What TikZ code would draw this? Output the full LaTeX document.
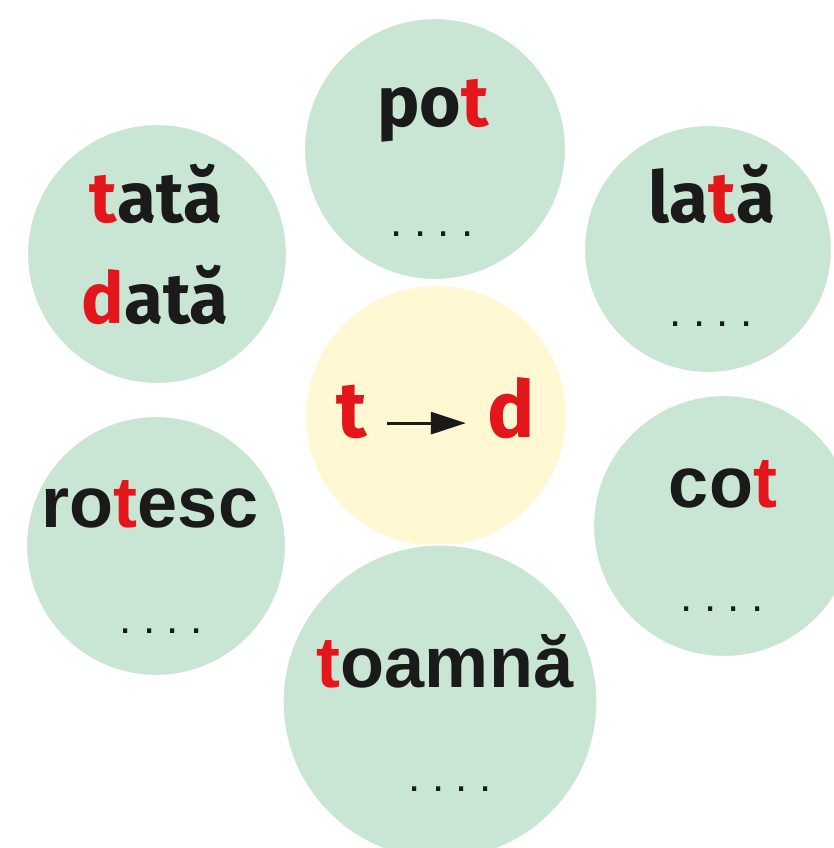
\documentclass[tikz,border=0pt]{standalone}
\usepackage{fontspec}
\setmainfont{Liberation Sans}
\newfontfamily\softsans{Fira Sans}
\usepackage{xcolor}
\usetikzlibrary{arrows.meta}
\definecolor{mintfill}{HTML}{C9E6D5}
\definecolor{creamfill}{HTML}{FFF8D2}
\definecolor{letterred}{HTML}{E3161B}
\definecolor{inkdark}{HTML}{1A1A1A}
\newcommand{\rl}[1]{\textcolor{letterred}{#1}}
\newcommand{\gapdots}{.\kern6.5pt.\kern6.5pt.\kern6.5pt.}
\tikzset{
  bubble/.style={circle, fill=#1, draw=white, line width=1.2pt, inner sep=0pt},
  bubble/.default=mintfill,
  word/.style={font=\fontsize{41}{41}\selectfont\bfseries, text=inkdark, anchor=base, inner sep=0pt},
  softword/.style={word, font=\fontsize{40.5}{40.5}\selectfont\softsans\bfseries},
  blanks/.style={font=\fontsize{25}{25}\selectfont, text=inkdark, anchor=base, inner sep=0pt},
  swap/.style={-{Triangle[length=0.7cm, width=0.44cm]}, line width=1.6pt, color=inkdark,
               shorten <=11pt, shorten >=12pt},
}

\begin{document}
\begin{tikzpicture}[
  sound/.style={softword, text=letterred, font=\fontsize{45}{45}\selectfont\softsans\bfseries,
                text height=15.8pt, text depth=0pt},
  x=0.02cm, y=-0.02cm]
  \useasboundingbox (0,0) rectangle (834,848);
  \node[bubble, minimum size=5.24cm] (cpot)  at (435,149) {};
  \node[bubble, minimum size=5.20cm] (ctata) at (157,254) {};
  \node[bubble, minimum size=4.96cm] (clata) at (708,249) {};
  \node[bubble=creamfill, minimum size=5.24cm] (cmid) at (436,416) {};
  \node[bubble, minimum size=5.20cm] (crot)  at (156,546) {};
  \node[bubble, minimum size=5.24cm] (ccot)  at (724,526) {};
  \node[bubble, minimum size=6.30cm] (ctoam) at (440,702) {};
  \node[softword] (pot)  at (433,127) {po\rl{t}};
  \node[softword] (tata) at (156,222) {\rl{t}ată};
  \node[softword] (data) at (155,323) {\rl{d}ată};
  \node[softword] (lata) at (712,222) {la\rl{t}ă};
  \node[word] (rotesc)   at (150,527) {ro\rl{t}esc};
  \node[word] (cot)      at (723,507) {co\rl{t}};
  \node[word] (toamna)   at (445,687) {\rl{t}oamnă};
  \foreach \n/\x/\y in {bpot/432/236, blata/711/326, brot/161/633, bcot/722/611, btoam/450/791}
    \node[blanks] (\n) at (\x,\y) {\gapdots};
  \node[sound] (t) at (352,437) {t};
  \node[sound] (d) at (511,437) {d};
  \draw[swap] (t.east) -- (d.west);
\end{tikzpicture}
\end{document}
